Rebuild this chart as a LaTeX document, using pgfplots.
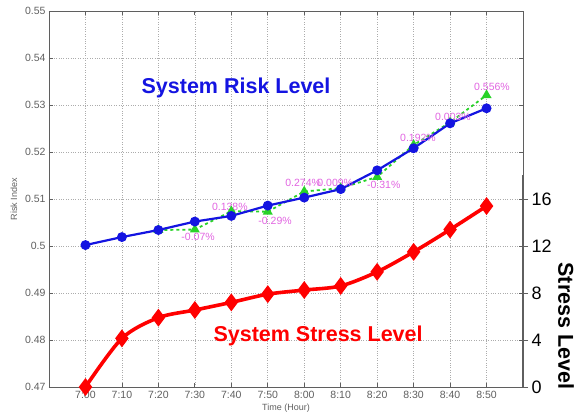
\documentclass[border=0pt]{standalone}
\usepackage{fontspec}
\setmainfont{Liberation Sans}
\usepackage{pgfplots}
\pgfplotsset{compat=1.18}

\definecolor{riskblue}{RGB}{20,20,225}
\definecolor{stressred}{RGB}{255,0,0}
\definecolor{predgreen}{RGB}{40,210,40}
\definecolor{pctpink}{RGB}{225,100,225}
\definecolor{axgray}{RGB}{95,95,95}

\begin{document}
\begin{tikzpicture}[x=1pt,y=1pt]
\begin{axis}[
    at={(0,0)}, anchor=south west,
    scale only axis, width=474pt, height=376pt,
    xmin=-1, xmax=12, ymin=0.47, ymax=0.55,
    xtick={0,...,11},
    xticklabels={7:00,7:10,7:20,7:30,7:40,7:50,8:00,8:10,8:20,8:30,8:40,8:50},
    ytick={0.47,0.48,0.49,0.5,0.51,0.52,0.53,0.54,0.55},
    yticklabel style={/pgf/number format/fixed, /pgf/number format/precision=2},
    /pgf/number format/assume math mode=true,
    grid=major,
    major grid style={dotted, gray!65, line width=0.6pt},
    tick align=inside, major tick length=4pt,
    tick style={axgray, line width=0.8pt},
    axis line style={axgray, line width=0.9pt},
    ticklabel style={font=\fontsize{10.5}{12}\selectfont, text=axgray},
    xticklabel style={yshift=-1pt},
    xlabel={Time (Hour)}, ylabel={Risk Index},
    label style={font=\fontsize{9}{10}\selectfont, text=axgray},
    xlabel style={yshift=2pt},
    ylabel style={yshift=1pt},
    clip=false,
]
% predicted (green dashed)
\addplot[predgreen, dashed, line width=1.8pt, mark=triangle*, mark size=4pt,
    mark options={solid}] coordinates {
    (2,0.5034) (3,0.5035) (4,0.5074) (5,0.5073) (6,0.5116)
    (7,0.5123) (8,0.5147) (9,0.5215) (10,0.5263) (11,0.5321)
};
% actual risk index (blue)
\addplot[riskblue, line width=2.2pt, mark=*, mark size=3.8pt] coordinates {
    (0,0.5002) (1,0.5019) (2,0.5034) (3,0.5052) (4,0.5064) (5,0.5086)
    (6,0.5103) (7,0.5121) (8,0.5161) (9,0.5208) (10,0.5261) (11,0.5293)
};
\begin{scope}[every node/.style={font=\fontsize{10.5}{11}\selectfont, text=pctpink, inner sep=0pt}]
\node at (axis cs:3.09,0.5019) {-0.07\%};
\node at (axis cs:3.96,0.5083) {0.138\%};
\node at (axis cs:5.20,0.5053) {-0.29\%};
\node at (axis cs:5.97,0.5134) {0.274\%};
\node at (axis cs:6.85,0.5134) {0.009\%};
\node at (axis cs:8.18,0.5130) {-0.31\%};
\node at (axis cs:9.12,0.5230) {0.192\%};
\node at (axis cs:10.08,0.5274) {0.003\%};
\node at (axis cs:11.15,0.5338) {0.556\%};
\end{scope}
\node[font=\bfseries\fontsize{21.5}{24}\selectfont, text=riskblue] at (axis cs:4.13,0.5336) {System Risk Level};
\end{axis}

\begin{axis}[
    at={(0,0)}, anchor=south west,
    scale only axis, width=474pt, height=211.5pt,
    xmin=-1, xmax=12, ymin=0, ymax=18,
    axis x line=none, axis y line*=right,
    ytick={0,4,8,12,16},
    tick align=outside, major tick length=5pt,
    tick style={axgray, line width=0.9pt},
    axis line style={axgray, line width=1.6pt},
    yticklabel style={font=\fontsize{18}{20}\selectfont, text=black},
    /pgf/number format/assume math mode=true,
    clip=false,
]
\addplot[stressred, line width=3.6pt, smooth, mark=diamond*, mark size=6pt] coordinates {
    (0,0) (1,4.14) (2,5.9) (3,6.55) (4,7.2) (5,7.9)
    (6,8.25) (7,8.6) (8,9.8) (9,11.5) (10,13.4) (11,15.4)
};
\node[font=\bfseries\fontsize{21.5}{24}\selectfont, text=stressred] at (axis cs:6.38,4.34) {System Stress Level};
\end{axis}
\node[rotate=-90, font=\bfseries\fontsize{21.5}{24}\selectfont] at (517pt,61pt) {Stress Level};
\pgfresetboundingbox
\useasboundingbox (-49pt,-30pt) rectangle (527pt,387pt);
\end{tikzpicture}
\end{document}
